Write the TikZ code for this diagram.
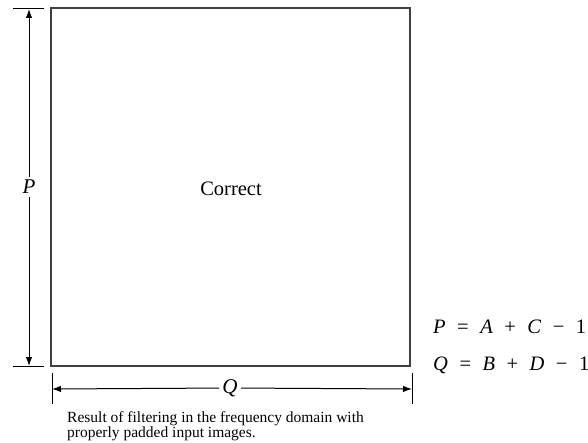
\documentclass[tikz,border=0pt]{standalone}
\usepackage{fontspec}
\setmainfont{Liberation Serif}
\usetikzlibrary{arrows.meta}
\newcommand{\eqgap}{\hspace{11.5pt}}
\begin{document}
\begin{tikzpicture}[x=1pt,y=-1pt,
  dim/.style={line width=1pt,-{Latex[length=9pt,width=6.5pt]}},
  tick/.style={line width=1pt},
  lbl/.style={font=\fontsize{21}{24}\selectfont\itshape,inner sep=3pt},
  eq/.style={font=\fontsize{20.5}{24}\selectfont,anchor=base west,inner sep=0pt}]
\useasboundingbox (0,0) rectangle (588,443);
\draw[line width=1.1pt,draw=black!75] (51,8) rectangle (410,366);
\node[font=\fontsize{20.5}{24}\selectfont] (correct) at (231,189) {Correct};
% vertical dimension
\coordinate (vt) at (29,9);
\coordinate (vb) at (29,366);
\draw[tick] (13,9) -- (44,9);
\draw[tick] (13,366) -- (44,366);
\node[lbl] (P) at (29,187) {P};
\draw[dim] (P) -- (vt);
\draw[dim] (P) -- (vb);
% horizontal dimension
\coordinate (hl) at (52,389);
\coordinate (hr) at (412,389);
\draw[tick] (52,373) -- (52,404);
\draw[tick] (412,373) -- (412,404);
\node[lbl] (Q) at (230,388) {Q};
\draw[dim] (Q) -- (hl);
\draw[dim] (Q) -- (hr);
% equations
\node[eq] (e1) at (433,333) {\textit{P}\eqgap=\eqgap\textit{A}\eqgap+\eqgap\textit{C}\eqgap−\eqgap1};
\node[eq] (e2) at (433,370) {\textit{Q}\eqgap=\eqgap\textit{B}\eqgap+\eqgap\textit{D}\eqgap−\eqgap1};
% caption
\node[font=\fontsize{15.5}{15}\selectfont,anchor=base west,align=left,inner sep=0pt] (cap) at (67,437)
  {Result of filtering in the frequency domain with\\properly padded input images.};
\end{tikzpicture}
\end{document}
